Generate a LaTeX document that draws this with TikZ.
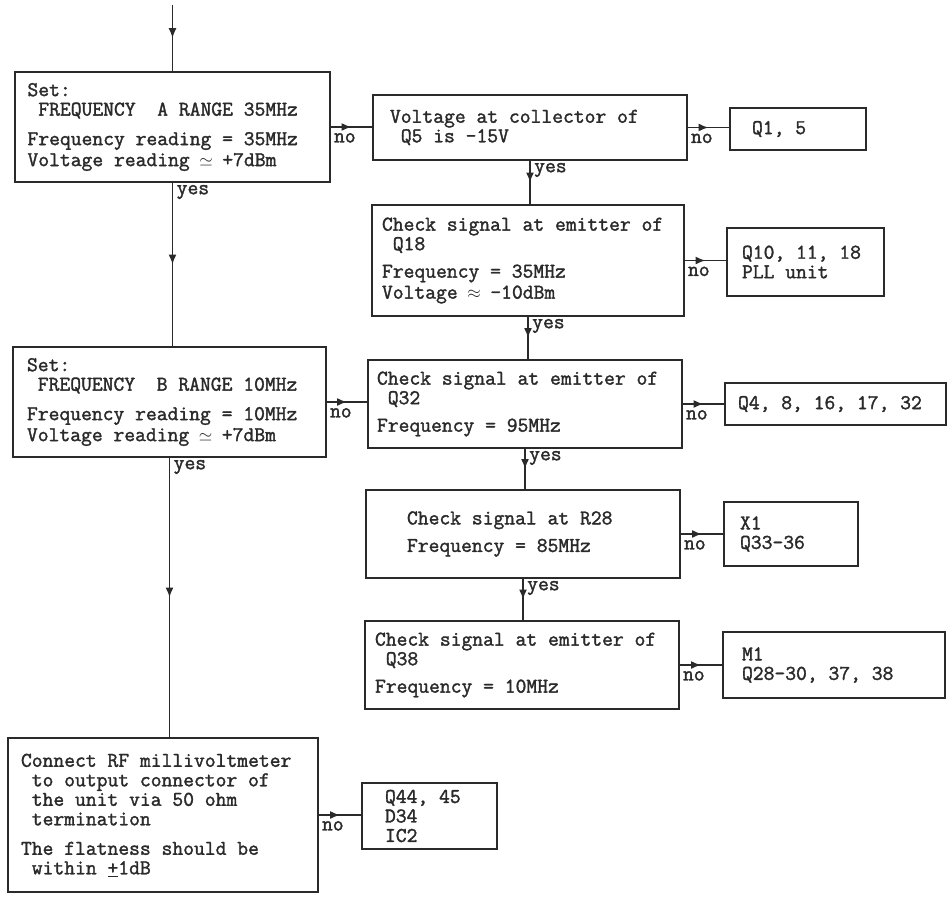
\documentclass[tikz,border=0pt]{standalone}
\usepackage{fontspec}
\usetikzlibrary{arrows.meta,decorations.markings,calc}
\newfontfamily\tw{Latin Modern Mono}[FakeBold=1.6]
\newcommand\ind{\hphantom{0}}
\newcommand\twsize{\tw\fontsize{21}{19.5}\selectfont}
\newcommand\msym[1]{\makebox[11pt]{\fontsize{17}{17}\selectfont\raisebox{0pt}[0pt][0pt]{$#1$}}}
\definecolor{ink}{HTML}{2A2A2A}
\tikzset{
  box/.style={draw=ink, line width=1.6pt, fill=white, inner sep=0pt, align=flush left,
    text=ink, font=\twsize},
  lbl/.style={inner sep=1pt, text=ink, font=\twsize},
  flow/.style={draw=ink, line width=1.5pt, postaction={decorate},
    decoration={markings, mark=at position 0.5 with {\arrow{Latex[length=10pt,width=8pt]}}}}
}
\begin{document}
\begin{tikzpicture}[x=1pt,y=-1pt]
\useasboundingbox[fill=white] (0,0) rectangle (949,896);
% left column
\node[box, minimum width=315, minimum height=110, text width=290] (A) at (172.5,127)
 {Set:\\ \ind FREQUENCY\ind\ind A RANGE 35MHz\\[10pt]
  Frequency reading = 35MHz\\[1.5pt] Voltage reading \msym{\simeq} +7dBm};
\node[box, minimum width=313, minimum height=110, text width=285] (B) at (169.5,402)
 {Set:\\ \ind FREQUENCY\ind\ind B RANGE 10MHz\\[10pt]
  Frequency reading = 10MHz\\[1.5pt] Voltage reading \msym{\simeq} +7dBm};
\node[box, minimum width=310, minimum height=154, text width=284] (H) at (163,815)
 {Connect RF millivoltmeter\\ \ind to output connector of\\ \ind the unit via 50 ohm\\ \ind termination\\[10pt]
  The flatness should be\\ \ind within \underline{+}1dB};
% middle column
\node[box, minimum width=314, minimum height=65, text width=280] (C) at (530,127.5)
 {Voltage at collector of\\ \ind Q5 is -15V};
\node[box, minimum width=312, minimum height=111, text width=292] (D) at (528,260.5)
 {Check signal at emitter of\\ \ind Q18\\[8pt]
  Frequency = 35MHz\\[1.5pt] Voltage \msym{\approx} -10dBm};
\node[box, minimum width=314, minimum height=88, text width=296] (E) at (525,404)
 {Check signal at emitter of\\ \ind Q32\\[8pt] Frequency = 95MHz};
\node[box, minimum width=314, minimum height=88, text width=232] (F) at (523,534)
 {Check signal at R28\\[8pt] Frequency = 85MHz};
\node[box, minimum width=314, minimum height=88, text width=294] (G) at (522,665)
 {Check signal at emitter of\\ \ind Q38\\[8pt] Frequency = 10MHz};
% right column
\node[box, minimum width=136, minimum height=42, text width=92] (Q1) at (798,129) {Q1, 5};
\node[box, minimum width=157, minimum height=68, text width=127] (P) at (805.5,262) {Q10, 11, 18\\ PLL unit};
\node[box, minimum width=221, minimum height=42, text width=195] (Q4) at (835.5,404) {Q4, 8, 16, 17, 32};
\node[box, minimum width=134, minimum height=64, text width=102] (X) at (791,534) {X1\\ Q33-36};
\node[box, minimum width=222, minimum height=66, text width=184] (M) at (834,665) {M1\\ Q28-30, 37, 38};
\node[box, minimum width=135, minimum height=66, text width=89] (I) at (429.5,816) {Q44, 45\\ D34\\ IC2};
% connectors
\coordinate (top) at (172.5,5);
\draw[flow] (top) -- (A.north);
\draw[flow] (A.south) -- (A.south |- B.north);
\draw[flow] (B.south) -- (B.south |- H.north);
\draw[flow] (A.east) -- (A.east -| C.west);
\draw[flow] (B.east) -- (B.east -| E.west);
\draw[flow] (H.east) -- (H.east -| I.west);
\draw[flow] (C.east) -- (C.east -| Q1.west);
\draw[flow] (D.east) -- (D.east -| P.west);
\draw[flow] (E.east) -- (E.east -| Q4.west);
\draw[flow] (F.east) -- (F.east -| X.west);
\draw[flow] (G.east) -- (G.east -| M.west);
\draw[flow] (C.south) -- (C.south |- D.north);
\draw[flow] (D.south) -- (D.south |- E.north);
\draw[flow] (E.south) -- (E.south |- F.north);
\draw[flow] (F.south) -- (F.south |- G.north);
% labels
\node[lbl, anchor=north west] (yA) at ([xshift=3pt,yshift=-1pt]A.south) {yes};
\node[lbl, anchor=north west] (yB) at ([xshift=3pt,yshift=-1pt]B.south) {yes};
\node[lbl, anchor=north west] (yC) at ([xshift=3pt,yshift=-1pt]C.south) {yes};
\node[lbl, anchor=north west] (yD) at ([xshift=3pt,yshift=-1pt]D.south) {yes};
\node[lbl, anchor=north west] (yE) at ([xshift=3pt,yshift=-1pt]E.south) {yes};
\node[lbl, anchor=north west] (yF) at ([xshift=3pt,yshift=-1pt]F.south) {yes};
\node[lbl, anchor=north west] (nA) at ([xshift=2pt,yshift=-5pt]A.east) {no};
\node[lbl, anchor=north west] (nB) at ([xshift=2pt,yshift=-5pt]B.east) {no};
\node[lbl, anchor=north west] (nH) at ([xshift=2pt,yshift=-5pt]H.east) {no};
\node[lbl, anchor=north west] (nC) at ([xshift=2pt,yshift=-5pt]C.east) {no};
\node[lbl, anchor=north west] (nD) at ([xshift=2pt,yshift=-5pt]D.east) {no};
\node[lbl, anchor=north west] (nE) at ([xshift=2pt,yshift=-5pt]E.east) {no};
\node[lbl, anchor=north west] (nF) at ([xshift=2pt,yshift=-5pt]F.east) {no};
\node[lbl, anchor=north west] (nG) at ([xshift=2pt,yshift=-5pt]G.east) {no};
\end{tikzpicture}
\end{document}
